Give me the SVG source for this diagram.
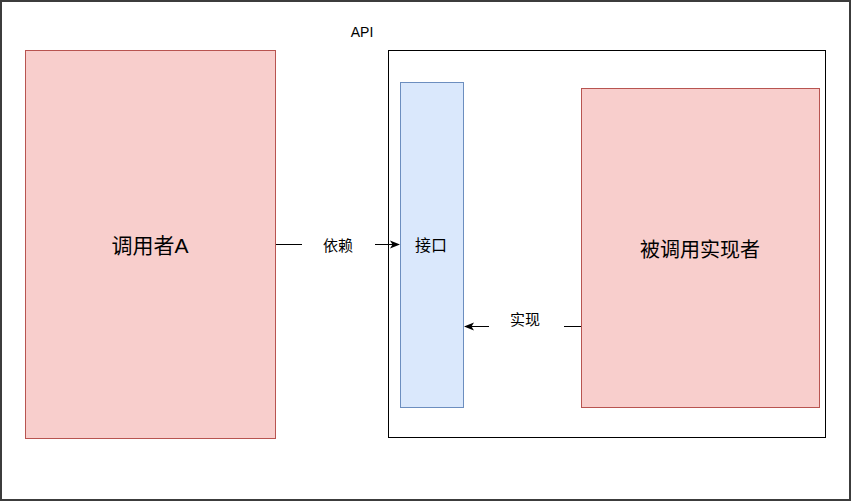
<svg xmlns="http://www.w3.org/2000/svg" width="851" height="501" viewBox="0 0 851 501">
<defs>
<style>
text{font-family:"Liberation Sans","Noto Sans CJK SC",sans-serif;fill:#000;text-anchor:middle;dominant-baseline:central}
.red{fill:#f8cecc;stroke:#b85450}
.blue{fill:#dae8fc;stroke:#6c8ebf}
.edge{stroke:#000;fill:none;stroke-width:1}
.lbl{font-size:15px}
</style>
<marker id="arr" viewBox="0 0 10 10" refX="9" refY="5" markerWidth="10" markerHeight="10" markerUnits="userSpaceOnUse" orient="auto">
<path d="M0,1 L10,5 L0,9 L2.5,5 Z" fill="#000"/>
</marker>
</defs>
<rect x="0" y="0" width="851" height="501" fill="#fff"/>
<rect x="1" y="1" width="849" height="499" fill="none" stroke="#3c3c3c" stroke-width="2"/>
<g id="api">
<rect x="388.5" y="50.5" width="437" height="387" fill="#fff" stroke="#000"/>
<text x="362" y="32" font-size="14">API</text>
</g>
<g id="callerA">
<rect class="red" x="25.5" y="50.5" width="250" height="388"/>
<text x="150" y="245" font-size="21">调用者A</text>
</g>
<g id="interface">
<rect class="blue" x="400.5" y="82.5" width="63" height="325"/>
<text x="431" y="245" font-size="16">接口</text>
</g>
<g id="implementer">
<rect class="red" x="581.5" y="88.5" width="238" height="319"/>
<text x="700" y="250" font-size="20">被调用实现者</text>
</g>
<g id="connectors">
<path class="edge" d="M276,244.5 L399,244.5" marker-end="url(#arr)"/>
<rect x="302" y="235" width="73" height="19" fill="#fff"/>
<text class="lbl" x="338" y="245">依赖</text>
<path class="edge" d="M581,326.5 L465,326.5" marker-end="url(#arr)"/>
<rect x="489" y="310" width="75" height="19" fill="#fff"/>
<text class="lbl" x="525" y="319">实现</text>
</g>
</svg>
